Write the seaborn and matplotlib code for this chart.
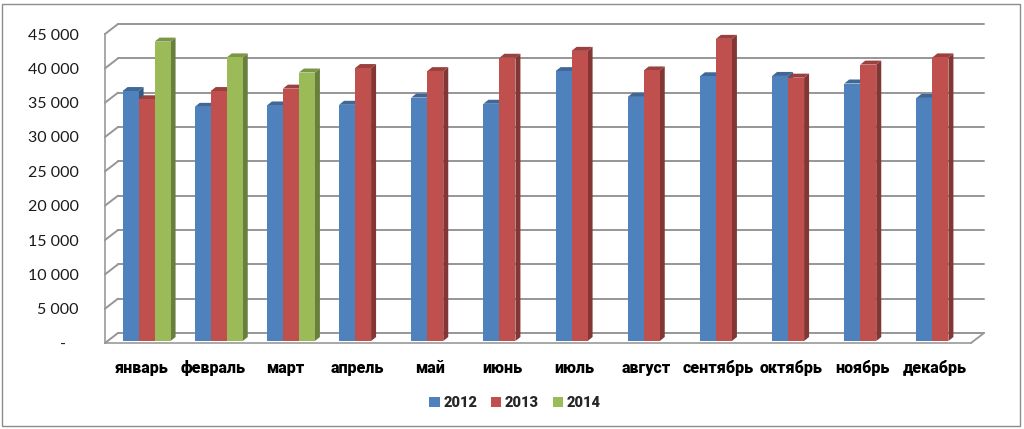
import numpy as np
import pandas as pd
import matplotlib
matplotlib.use("Agg")
import matplotlib.pyplot as plt
import seaborn as sns
from matplotlib.transforms import ScaledTranslation, IdentityTransform
from matplotlib.patches import Polygon, Rectangle, Patch
from matplotlib.lines import Line2D
import matplotlib.colors as mcolors

months = ["январь", "февраль", "март", "апрель", "май", "июнь",
          "июль", "август", "сентябрь", "октябрь", "ноябрь", "декабрь"]
years = ["2012", "2013", "2014"]
values_2012 = [36400, 34100, 34300, 34400, 35450, 34550, 39300, 35550, 38550, 38600, 37500, 35400]
values_2013 = [35200, 36400, 36750, 39750, 39300, 41250, 42250, 39400, 44000, 38350, 40250, 41300]
values_2014 = [43600, 41300, 39100, np.nan, np.nan, np.nan, np.nan, np.nan, np.nan, np.nan, np.nan, np.nan]
colors = ["#4F81BD", "#C0504D", "#9BBB59"]
y_ticks = list(range(0, 45001, 5000))
y_tick_labels = ["-   "] + [f"{v // 1000} 000" for v in y_ticks[1:]]

rows = []
for yr, vals in zip(years, [values_2012, values_2013, values_2014]):
    for m, v in zip(months, vals):
        if not np.isnan(v):
            rows.append({"month": m, "year": yr, "value": v})
df = pd.DataFrame(rows)

sns.set_style("white")
plt.rcParams["font.family"] = ["Lato", "DejaVu Sans"]
BOLD_FONT = ["Roboto", "DejaVu Sans"]

W_PX, H_PX, DPI = 1024, 429, 100
fig = plt.figure(figsize=(W_PX / DPI, H_PX / DPI), dpi=DPI)
ax = fig.add_axes([105 / W_PX, (H_PX - 343) / H_PX, (971 - 105) / W_PX, (343 - 34) / H_PX])

sns.barplot(data=df, x="month", y="value", hue="year", order=months, hue_order=years,
            palette=colors, width=0.665, dodge=True, saturation=1, legend=False,
            errorbar=None, ax=ax, gap=0)

ax.set_xlim(-0.5, len(months) - 0.5)
ax.set_ylim(0, 45000)
ax.set_yticks(y_ticks)
ax.set_yticklabels(y_tick_labels, fontsize=11.5, color="#1a1a1a")
ax.set_xlabel("")
ax.set_ylabel("")
ax.set_xticks(range(len(months)))
ax.set_xticklabels(months, fontsize=11.5, fontweight=900, color="#000000", family=BOLD_FONT)
ax.set_xticks(np.arange(-0.5, len(months), 1.0), minor=True)
ax.tick_params(axis="x", which="major", length=0, pad=12)
ax.tick_params(axis="x", which="minor", length=5, color="#9a9a9a", width=1.2)
ax.tick_params(axis="y", length=4, color="#9a9a9a", width=1.2, pad=15)
for s in ["top", "right"]:
    ax.spines[s].set_visible(False)
for s in ["left", "bottom"]:
    ax.spines[s].set_color("#9a9a9a")
    ax.spines[s].set_linewidth(1.2)
ax.patch.set_visible(False)

GRID = "#969696"
DX, DY = 13, 10  # depth of the floor (pixels)

# back-wall gridlines and left-wall diagonals
ident = IdentityTransform()
for v in y_ticks:
    x0, y0 = ax.transAxes.transform((0, 0))[0], ax.transData.transform((0, v))[1]
    x1 = ax.transAxes.transform((1, 0))[0]
    fig.add_artist(Line2D([x0, x0 + DX], [y0, y0 + DY], transform=ident, color=GRID, lw=1.4, zorder=0.5))
    fig.add_artist(Line2D([x0 + DX, x1 + DX], [y0 + DY, y0 + DY], transform=ident, color=GRID, lw=1.4, zorder=0.5))
# floor right edge
x1, y0 = ax.transAxes.transform((1, 0))
fig.add_artist(Line2D([x1, x1 + DX], [y0, y0 + DY], transform=ident, color=GRID, lw=1.3, zorder=0.5))

# 3D bars
BDX, BDY = 5, 4
SHIFT_X, SHIFT_Y = 5.5, 2
bars = [p for p in ax.patches if isinstance(p, Rectangle) and np.isfinite(p.get_height()) and p.get_height() > 0]
bars.sort(key=lambda p: p.get_x())
offset = ScaledTranslation(SHIFT_X / DPI, SHIFT_Y / DPI, fig.dpi_scale_trans)
for i, p in enumerate(bars):
    z = 2 + i * 0.01
    fc = p.get_facecolor()
    tr = ax.transData + offset
    (xa, ya) = tr.transform((p.get_x(), 0))
    (xb, yb) = tr.transform((p.get_x() + p.get_width(), p.get_height()))
    rgb = np.array(mcolors.to_rgb(fc))
    side = Polygon([[xb, ya], [xb, yb], [xb + BDX, yb + BDY], [xb + BDX, ya + BDY]],
                   closed=True, transform=ident, facecolor=rgb * 0.68, edgecolor="none", zorder=z)
    top = Polygon([[xa, yb], [xb, yb], [xb + BDX, yb + BDY], [xa + BDX, yb + BDY]],
                  closed=True, transform=ident, facecolor=rgb * 0.8, edgecolor="none", zorder=z)
    p.remove()
    p.set_transform(tr)
    p.set_zorder(z)
    p.set_edgecolor("none")
    p.set_clip_on(False)
    fig.add_artist(side)
    fig.add_artist(top)
    fig.add_artist(p)

handles = [Patch(facecolor=c, edgecolor="none") for c in colors]
fig.legend(handles, years, loc="center", bbox_to_anchor=(0.503, 1 - 403 / H_PX), ncol=3,
           frameon=False, handlelength=0.7, handleheight=0.7, handletextpad=0.25,
           columnspacing=0.95, prop={"weight": 900, "size": 10.5, "family": BOLD_FONT})

fig.patches.append(Rectangle((2 / W_PX, 3 / H_PX), 1018 / W_PX, 422 / H_PX, transform=fig.transFigure,
                             fill=False, edgecolor="#8c8c8c", lw=1.0))

fig.savefig("out.png", dpi=DPI)
